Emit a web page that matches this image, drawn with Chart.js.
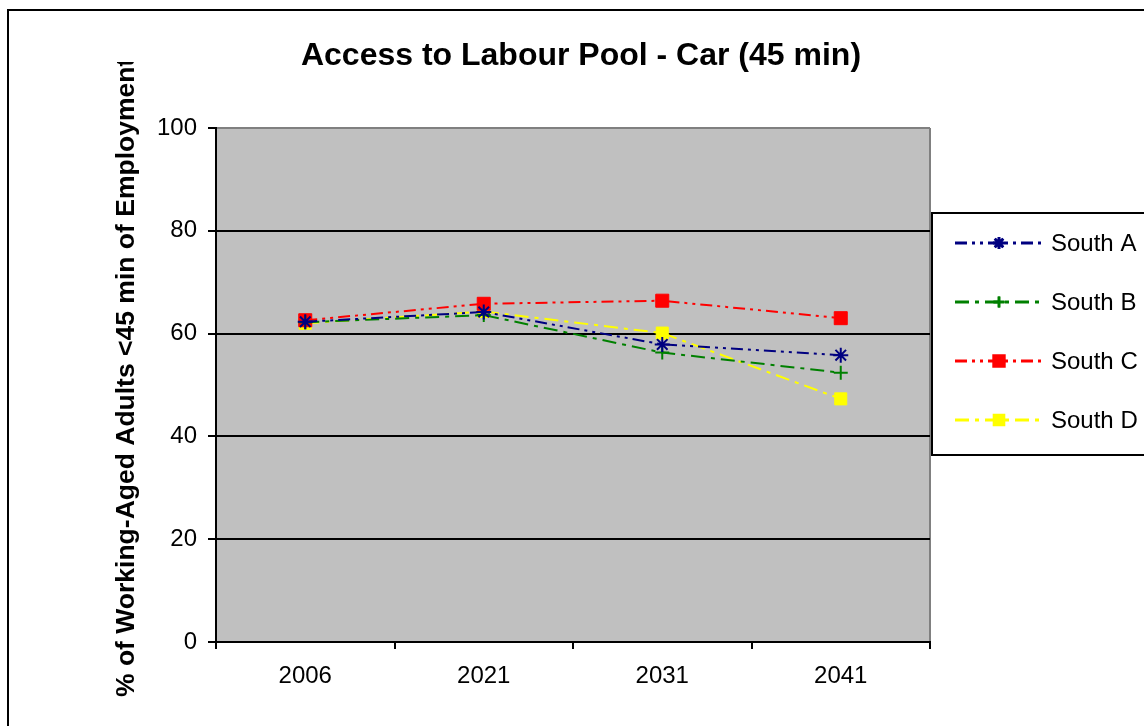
<!DOCTYPE html>
<html>
<head>
<meta charset="utf-8">
<script src="https://cdn.jsdelivr.net/npm/chart.js@4/dist/chart.umd.min.js"></script>
<style>
  html, body { margin: 0; padding: 0; background: #fff; }
  #wrap { width: 1144px; height: 726px; }
</style>
</head>
<body>
<div id="wrap"><canvas id="chart" width="1144" height="726"></canvas></div>
<script>
// ── Data ──
const years   = ['2006', '2021', '2031', '2041'];
const southA  = [62.3, 64.2, 57.9, 55.8];
const southB  = [62.2, 63.6, 56.3, 52.4];
const southC  = [62.6, 65.8, 66.4, 63.0];
const southD  = [62.0, 64.3, 60.1, 47.3];
const yTicks  = [0, 20, 40, 60, 80, 100];

const titleText  = 'Access to Labour Pool - Car (45 min)';
const yTitleText = '% of Working-Aged Adults <45 min of Employment';
const FONT = '"Liberation Sans", Arial, sans-serif';

const series = [
  { label: 'South A', data: southA, color: '#000080', dash: [12, 5, 3, 5, 3, 5], point: 'star',  radius: 7.5, bw: 2 },
  { label: 'South B', data: southB, color: '#008000', dash: [14, 6, 4, 6],       point: 'cross', radius: 7,   bw: 2 },
  { label: 'South C', data: southC, color: '#ff0000', dash: [12, 5, 3, 5, 3, 5], point: 'rect',  radius: 9.2, bw: 1 },
  { label: 'South D', data: southD, color: '#ffff00', dash: [14, 6, 4, 6],       point: 'rect',  radius: 8.5, bw: 1 },
];

// ── Decorations: plot background, outer frame, title, y title, legend ──
const decor = {
  id: 'decor',
  beforeDraw(chart) {
    const { ctx, chartArea: a } = chart;
    ctx.save();
    ctx.fillStyle = '#fff';
    ctx.fillRect(0, 0, chart.width, chart.height);
    ctx.fillStyle = '#c0c0c0';
    ctx.fillRect(a.left, a.top, a.right - a.left, a.bottom - a.top);
    ctx.strokeStyle = '#808080';
    ctx.lineWidth = 2;
    ctx.beginPath();
    ctx.moveTo(a.right, a.top);
    ctx.lineTo(a.right, a.bottom);
    ctx.stroke();
    ctx.restore();
  },
  afterDraw(chart) {
    const { ctx } = chart;
    ctx.save();
    // outer frame
    ctx.strokeStyle = '#000';
    ctx.lineWidth = 2;
    ctx.beginPath();
    ctx.moveTo(8, 730);
    ctx.lineTo(8, 10);
    ctx.lineTo(1150, 10);
    ctx.stroke();

    // title
    ctx.fillStyle = '#000';
    ctx.font = `bold 32px ${FONT}`;
    ctx.textAlign = 'center';
    ctx.textBaseline = 'middle';
    ctx.fillText(titleText, 581, 56);

    // y title (clipped at top like the original)
    ctx.save();
    ctx.beginPath();
    ctx.rect(0, 62, 300, 700);
    ctx.clip();
    ctx.translate(127, 697);
    ctx.rotate(-Math.PI / 2);
    ctx.font = `bold 26.5px ${FONT}`;
    ctx.textAlign = 'left';
    ctx.fillText(yTitleText, 0, 0);
    ctx.restore();

    // legend
    ctx.fillStyle = '#fff';
    ctx.fillRect(932, 213, 220, 242);
    ctx.strokeStyle = '#000';
    ctx.lineWidth = 2;
    ctx.strokeRect(932, 213, 220, 242);
    series.forEach((s, i) => {
      const y = 243 + i * 59;
      ctx.strokeStyle = s.color;
      ctx.lineWidth = 3;
      ctx.setLineDash(s.dash);
      ctx.beginPath();
      ctx.moveTo(955, y);
      ctx.lineTo(1043, y);
      ctx.stroke();
      ctx.setLineDash([]);
      Chart.helpers.drawPoint(ctx, {
        pointStyle: s.point, radius: s.radius * 0.8, borderWidth: s.bw, rotation: 0,
      }, 999, y);
      ctx.fillStyle = s.color;
      ctx.strokeStyle = s.color;
      ctx.lineWidth = s.bw;
      ctx.fill();
      ctx.stroke();
      ctx.fillStyle = '#000';
      ctx.font = `24px ${FONT}`;
      ctx.textAlign = 'left';
      ctx.fillText(s.label, 1051, y + 1);
    });
    ctx.restore();
  },
};

new Chart(document.getElementById('chart'), {
  type: 'line',
  data: {
    labels: years,
    datasets: series.map((s) => ({
      label: s.label,
      data: s.data,
      borderColor: s.color,
      backgroundColor: s.color,
      borderWidth: 2,
      borderDash: s.dash,
      tension: 0,
      fill: false,
      pointStyle: s.point,
      pointRadius: s.radius,
      pointBorderWidth: s.bw,
      pointBorderColor: s.color,
      pointBackgroundColor: s.color,
    })),
  },
  options: {
    responsive: false,
    animation: false,
    devicePixelRatio: 1,
    layout: { padding: { top: 128, right: 214, left: 0, bottom: 0 } },
    plugins: {
      legend: { display: false },
      title: { display: false },
      tooltip: { enabled: false },
    },
    scales: {
      x: {
        offset: true,
        afterFit: (s) => { s.height = 84; },
        grid: {
          offset: true, drawOnChartArea: false, drawTicks: true,
          tickLength: 7, color: '#000', lineWidth: 2,
        },
        border: { display: true, color: '#000', width: 2 },
        ticks: { color: '#000', padding: 13, font: { family: FONT, size: 24 } },
      },
      y: {
        min: 0, max: 100,
        afterFit: (s) => { s.width = 216; },
        afterBuildTicks: (s) => { s.ticks = yTicks.map((v) => ({ value: v })); },
        grid: {
          color: (c) => (c.tick && c.tick.value === 100 ? '#808080' : '#000'),
          tickColor: '#000',
          lineWidth: 2, tickLength: 8,
        },
        border: { display: true, color: '#000', width: 2 },
        ticks: { color: '#000', padding: 11, font: { family: FONT, size: 24 } },
      },
    },
  },
  plugins: [decor],
});
</script>
</body>
</html>
